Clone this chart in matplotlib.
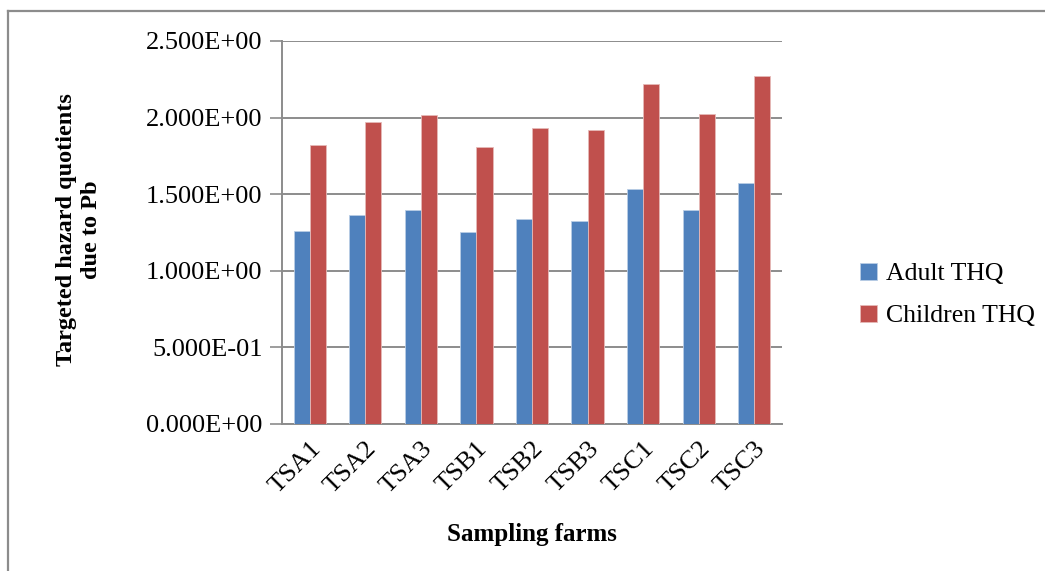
import matplotlib
matplotlib.use("Agg")
import matplotlib.pyplot as plt
from matplotlib.lines import Line2D
import numpy as np

farms = ["TSA1", "TSA2", "TSA3", "TSB1", "TSB2", "TSB3", "TSC1", "TSC2", "TSC3"]
adult_thq = [1.261, 1.365, 1.398, 1.250, 1.337, 1.324, 1.535, 1.398, 1.570]
children_thq = [1.822, 1.972, 2.020, 1.807, 1.933, 1.916, 2.220, 2.022, 2.270]
y_ticks = [0.0, 0.5, 1.0, 1.5, 2.0, 2.5]
y_tick_labels = ["0.000E+00", "5.000E-01", "1.000E+00", "1.500E+00", "2.000E+00", "2.500E+00"]

plt.rcParams["font.family"] = ["Liberation Serif", "DejaVu Serif"]

W, H = 1045, 571
fig = plt.figure(figsize=(W / 100, H / 100), dpi=100)
ax = fig.add_axes([282 / W, 1 - 424 / H, (782 - 282) / W, (424 - 41) / H])

x = np.arange(len(farms))
bw = 0.29
blue = "#4F81BD"
red = "#C0504D"
ax.bar(x - bw / 2, adult_thq, bw, color=blue, edgecolor="#B9CDE5", linewidth=0.6,
       label="Adult THQ", zorder=3)
ax.bar(x + bw / 2, children_thq, bw, color=red, edgecolor="#E6B9B8", linewidth=0.6,
       label="Children THQ", zorder=3)

ax.set_xlim(-0.5, len(farms) - 0.5)
ax.set_ylim(0, 2.5)
ax.set_yticks(y_ticks)
ax.set_yticklabels(y_tick_labels, fontsize=19)
ax.yaxis.grid(True, color="#8C8C8C", linewidth=1.4, zorder=0)
ax.set_axisbelow(True)

for side in ("top", "right"):
    ax.spines[side].set_visible(False)
for side in ("left", "bottom"):
    ax.spines[side].set_color("#8C8C8C")
    ax.spines[side].set_linewidth(1.4)

ax.tick_params(axis="y", length=9, width=1.2, color="#8C8C8C", pad=5)
ax.tick_params(axis="x", length=0, pad=10)
ax.set_xticks(x)
ax.set_xticklabels(farms, fontsize=19, rotation=45, ha="right", va="top",
                   rotation_mode="anchor")

ax.set_xlabel("Sampling farms", fontsize=18, fontweight="bold", labelpad=18)
fig.text(79 / W, 1 - 230 / H, "Targeted hazard quotients\ndue to Pb", fontsize=17.5,
         fontweight="bold", rotation=90, ha="center", va="center", linespacing=1.25)

leg = ax.legend(loc="center left", bbox_to_anchor=(860 / W, 1 - 295 / H),
                bbox_transform=fig.transFigure, frameon=False, fontsize=18.5,
                handlelength=0.65, handleheight=0.65, handletextpad=0.35,
                labelspacing=0.75, borderpad=0, borderaxespad=0)

# outer chart border
fig.add_artist(Line2D([8 / W, 8 / W], [0, 1 - 11 / H], transform=fig.transFigure,
                      color="#8C8C8C", linewidth=1.6))
fig.add_artist(Line2D([8 / W, 1], [1 - 11 / H, 1 - 11 / H], transform=fig.transFigure,
                      color="#8C8C8C", linewidth=1.6))

fig.savefig("out.png", dpi=100)
